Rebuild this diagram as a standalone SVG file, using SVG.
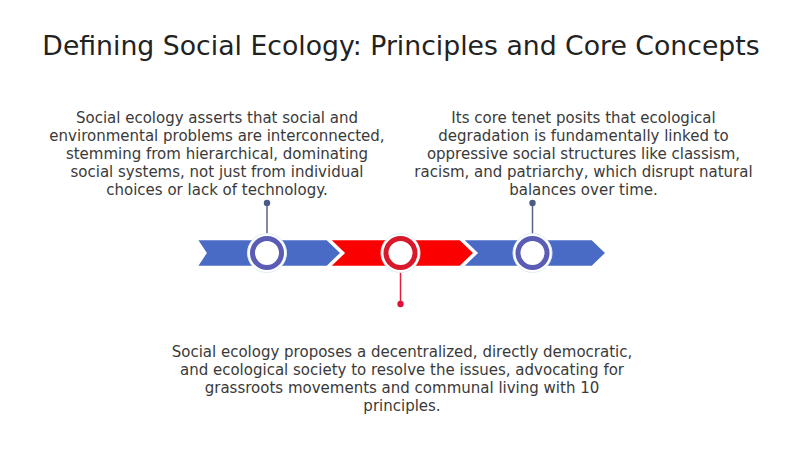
<svg xmlns="http://www.w3.org/2000/svg" width="800" height="449" viewBox="0 0 800 449">
<style>
.t{font-family:"DejaVu Sans",sans-serif;font-size:15px;fill:#3a3a3a;text-anchor:middle}
.title{font-family:"DejaVu Sans",sans-serif;font-size:26.7px;fill:#222;text-anchor:middle}
.seg{stroke:#fff;stroke-width:1.5}
.blue{fill:#4a6bc5}
.red{fill:#fa0000}
.halo{fill:#fff;stroke:#dfeff5;stroke-width:1}
.ringb{fill:#fff;stroke:#5a5db3;stroke-width:5}
.ringr{fill:#fff;stroke:#d8182b;stroke-width:5}
</style>
<rect width="800" height="449" fill="#fff"/>
<text class="title" x="401" y="55">Defining Social Ecology: Principles and Core Concepts</text>
<g id="connectors">
<line x1="267" y1="203" x2="267" y2="236" stroke="#5a6088" stroke-width="1.5"/>
<circle cx="267" cy="203" r="3.2" fill="#4a5a85"/>
<line x1="532.5" y1="203" x2="532.5" y2="236" stroke="#5a6088" stroke-width="1.5"/>
<circle cx="532.5" cy="203" r="3.2" fill="#4a5a85"/>
<line x1="400.5" y1="271" x2="400.5" y2="304" stroke="#e0203a" stroke-width="1.5"/>
<circle cx="400.5" cy="304" r="3.2" fill="#e0103a"/>
</g>
<g id="timeline">
<polygon class="seg blue" points="197,239.5 327,239.5 341,253 327,266.5 197,266.5 206,253"/>
<polygon class="seg red" points="330,239.5 460,239.5 474,253 460,266.5 330,266.5 344,253"/>
<polygon class="seg blue" points="463,239.5 592,239.5 606,253 592,266.5 463,266.5 477,253"/>
</g>
<g id="node1">
<circle class="halo" cx="267" cy="253" r="19.5"/>
<circle class="ringb" cx="267" cy="253" r="14.5"/>
<text class="t"><tspan x="217" y="123">Social ecology asserts that social and</tspan><tspan x="217" y="141">environmental problems are interconnected,</tspan><tspan x="217" y="159">stemming from hierarchical, dominating</tspan><tspan x="217" y="177">social systems, not just from individual</tspan><tspan x="217" y="195">choices or lack of technology.</tspan></text>
</g>
<g id="node2">
<circle class="halo" cx="400.5" cy="253" r="19.5"/>
<circle class="ringr" cx="400.5" cy="253" r="14.5"/>
<text class="t"><tspan x="402" y="357">Social ecology proposes a decentralized, directly democratic,</tspan><tspan x="402" y="375">and ecological society to resolve the issues, advocating for</tspan><tspan x="402" y="393">grassroots movements and communal living with 10</tspan><tspan x="402" y="411">principles.</tspan></text>
</g>
<g id="node3">
<circle class="halo" cx="532.5" cy="253" r="19.5"/>
<circle class="ringb" cx="532.5" cy="253" r="14.5"/>
<text class="t"><tspan x="583.5" y="123">Its core tenet posits that ecological</tspan><tspan x="583.5" y="141">degradation is fundamentally linked to</tspan><tspan x="583.5" y="159">oppressive social structures like classism,</tspan><tspan x="583.5" y="177">racism, and patriarchy, which disrupt natural</tspan><tspan x="583.5" y="195">balances over time.</tspan></text>
</g>
</svg>
